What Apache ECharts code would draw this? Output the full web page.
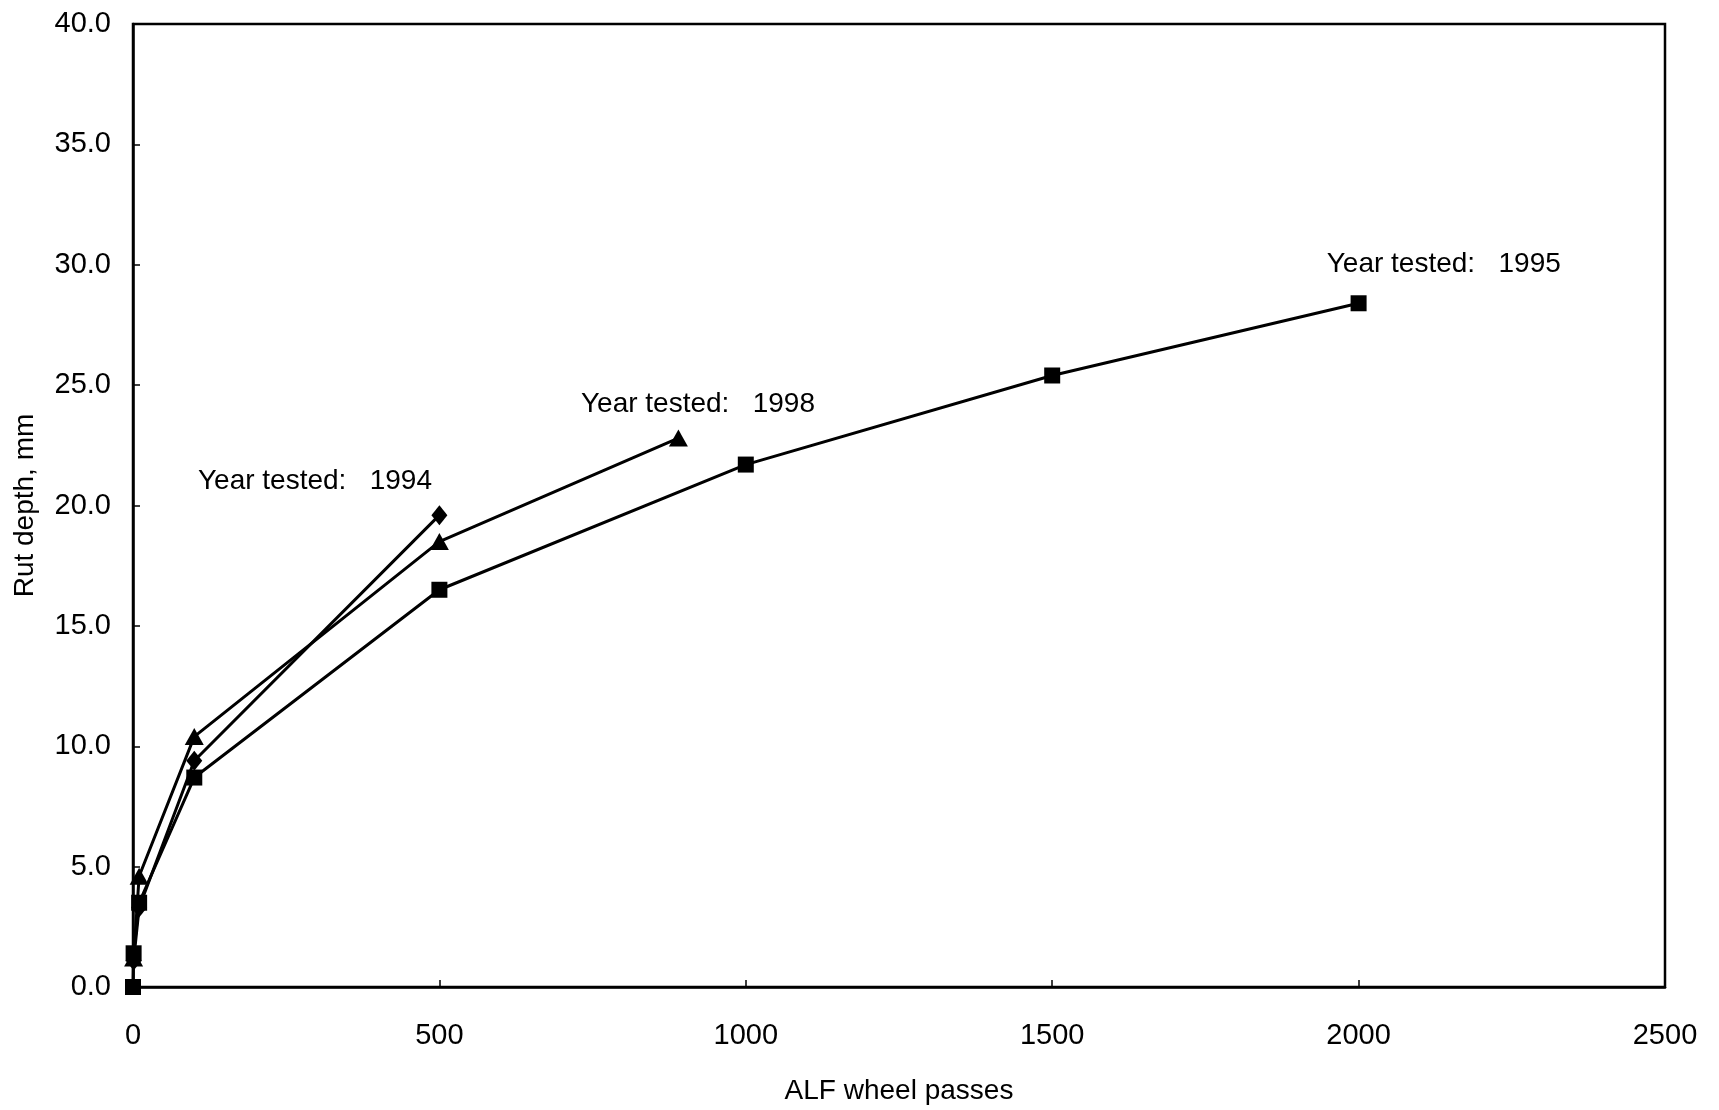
<!DOCTYPE html>
<html>
<head>
<meta charset="utf-8">
<script src="https://cdn.jsdelivr.net/npm/echarts@6/dist/echarts.min.js"></script>
<style>
html,body{margin:0;padding:0;background:#fff;}
#chart{width:1719px;height:1110px;}
</style>
</head>
<body>
<div id="chart"></div>
<script>
// ---- data ----
const passes1995 = [0, 1, 10, 100, 500, 1000, 1500, 2000];
const rut1995    = [0, 1.4, 3.5, 8.7, 16.5, 21.7, 25.4, 28.4];

const passes1994 = [1, 10, 100, 500];
const rut1994    = [1.1, 3.3, 9.4, 19.6];

const passes1998 = [1, 10, 100, 500, 890];
const rut1998    = [1.2, 4.6, 10.4, 18.5, 22.8];

const xTicks = [0, 500, 1000, 1500, 2000, 2500];
const yTicks = [0, 5, 10, 15, 20, 25, 30, 35, 40];

const labelTexts = ['Year tested:   1994', 'Year tested:   1998', 'Year tested:   1995'];
const labelAnchors = [[106, 21.0], [731, 24.2], [1948, 30.0]];

function pairs(xs, ys) { return xs.map((x, i) => [x, ys[i]]); }

const FONT = "'Liberation Sans', Arial, sans-serif";
const chart = echarts.init(document.getElementById('chart'));

const lineStyle = { color: '#000', width: 3 };

chart.setOption({
  animation: false,
  backgroundColor: '#fff',
  grid: {
    left: 133, right: 54, top: 24, bottom: 123,
    show: true, borderColor: '#000', borderWidth: 2.5, backgroundColor: 'transparent'
  },
  xAxis: {
    type: 'value',
    min: xTicks[0], max: xTicks[xTicks.length - 1], interval: 500,
    name: 'ALF wheel passes', nameLocation: 'middle', nameGap: 90,
    nameTextStyle: { fontFamily: FONT, fontSize: 28, color: '#000' },
    axisLine: { show: true, lineStyle: { color: '#000', width: 2.5 } },
    axisTick: { show: true, inside: true, length: 7, lineStyle: { color: '#000', width: 1.5 } },
    axisLabel: { fontFamily: FONT, fontSize: 29, color: '#000', margin: 34,
      formatter: v => String(v) },
    splitLine: { show: false }
  },
  yAxis: {
    type: 'value',
    min: yTicks[0], max: yTicks[yTicks.length - 1], interval: 5,
    name: 'Rut depth, mm', nameLocation: 'middle', nameGap: 94,
    nameTextStyle: { fontFamily: FONT, fontSize: 28, color: '#000' },
    axisLine: { show: true, lineStyle: { color: '#000', width: 2.5 } },
    axisTick: { show: true, inside: true, length: 7, lineStyle: { color: '#000', width: 1.5 } },
    axisLabel: { fontFamily: FONT, fontSize: 29, color: '#000', margin: 22,
      formatter: v => v.toFixed(1) },
    splitLine: { show: false }
  },
  series: [
    {
      name: '1995', type: 'line', data: pairs(passes1995, rut1995),
      symbol: 'rect', symbolSize: 16, showAllSymbol: true,
      itemStyle: { color: '#000' }, lineStyle: lineStyle, z: 3
    },
    {
      name: '1994', type: 'line', data: pairs(passes1994, rut1994),
      symbol: 'diamond', symbolSize: [16, 20], showAllSymbol: true,
      itemStyle: { color: '#000' }, lineStyle: lineStyle, z: 4
    },
    {
      name: '1998', type: 'line', data: pairs(passes1998, rut1998),
      symbol: 'triangle', symbolSize: [19, 17], showAllSymbol: true,
      itemStyle: { color: '#000' }, lineStyle: lineStyle, z: 2
    }
  ]
});

const graphics = labelTexts.map((t, i) => {
  const p = chart.convertToPixel({ gridIndex: 0 }, labelAnchors[i]);
  return {
    type: 'text', x: p[0], y: p[1], z: 10,
    style: { text: t, fontFamily: FONT, fontSize: 28, fill: '#000',
      textAlign: 'left', textVerticalAlign: 'middle' }
  };
});
chart.setOption({ graphic: graphics });
</script>
</body>
</html>
